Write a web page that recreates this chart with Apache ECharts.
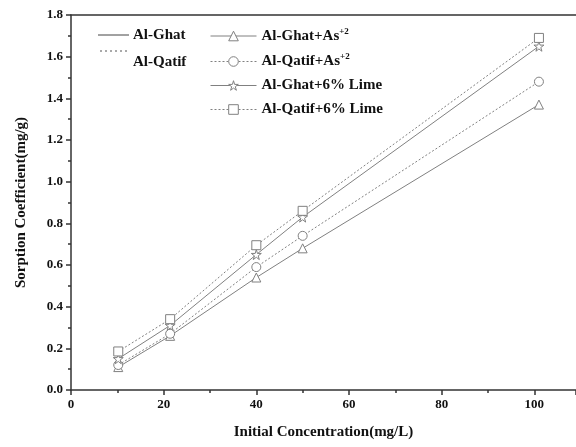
<!DOCTYPE html>
<html>
<head>
<meta charset="utf-8">
<script src="https://cdn.jsdelivr.net/npm/echarts@6/dist/echarts.min.js"></script>
<style>
  html, body { margin: 0; padding: 0; background: #fff; }
  #chart { width: 576px; height: 447px; }
</style>
</head>
<body>
<div id="chart"></div>
<script>
// initial concentration (mg/L)
var conc = [10.2, 21.4, 40, 50, 101];
// sorption coefficient (mg/g)
var ghatAs = [0.11, 0.26, 0.54, 0.68, 1.37];
var qatifAs = [0.12, 0.27, 0.59, 0.74, 1.48];
var ghatLime = [0.15, 0.31, 0.65, 0.83, 1.65];
var qatifLime = [0.185, 0.34, 0.695, 0.86, 1.69];

var FONT = '"Liberation Serif", "Times New Roman", serif';
var GRAY = '#808080';
var STAR = 'path://M50,0 L61,35 L98,35 L68,57 L79,91 L50,70 L21,91 L32,57 L2,35 L39,35 Z';

function pairs(ys) {
  return conc.map(function (x, i) { return [x, ys[i]]; });
}

function mkSeries(name, ys, symbol, dotted) {
  return {
    name: name,
    type: 'line',
    data: pairs(ys),
    symbol: symbol,
    symbolSize: symbol === STAR ? 10 : 9,
    lineStyle: { color: GRAY, width: 1, type: dotted ? [2, 2] : 'solid' },
    itemStyle: { color: '#fff', borderColor: GRAY, borderWidth: 1 },
    emphasis: { disabled: true },
    animation: false
  };
}

var chart = echarts.init(document.getElementById('chart'));
chart.setOption({
  animation: false,
  grid: { left: 71, top: 15, right: 0, bottom: 57 },
  legend: {
    left: 205, top: 22,
    orient: 'vertical',
    itemWidth: 46, itemHeight: 12, itemGap: 9,
    data: ['Al-Ghat+As', 'Al-Qatif+As', 'Al-Ghat+6% Lime', 'Al-Qatif+6% Lime'],
    itemStyle: { color: '#fff', borderColor: GRAY, borderWidth: 1 },
    lineStyle: { width: 1, color: GRAY },
    formatter: function (n) {
      if (n.indexOf('As') > 0) return '{t|' + n + '}{s|+2}';
      return '{t|' + n + '}';
    },
    textStyle: {
      rich: {
        t: { fontFamily: FONT, fontWeight: 'bold', fontSize: 15, color: '#111' },
        s: { fontFamily: FONT, fontWeight: 'bold', fontSize: 9, color: '#111', verticalAlign: 'top', padding: [0, 0, 9, 0] }
      }
    }
  },
  graphic: [
    { type: 'line', shape: { x1: 98, y1: 35, x2: 129, y2: 35 }, style: { stroke: '#444', lineWidth: 1 } },
    { type: 'text', left: 133, top: 28, style: { text: 'Al-Ghat', font: 'bold 15px ' + FONT, fill: '#111' } },
    { type: 'line', shape: { x1: 100, y1: 51, x2: 129, y2: 51 }, style: { stroke: '#555', lineWidth: 1, lineDash: [2, 3] } },
    { type: 'text', left: 133, top: 55, style: { text: 'Al-Qatif', font: 'bold 15px ' + FONT, fill: '#111' } }
  ],
  xAxis: [{
    type: 'value', min: 0, max: 109, interval: 20,
    name: 'Initial Concentration(mg/L)', nameLocation: 'middle', nameGap: 35,
    nameTextStyle: { fontFamily: FONT, fontWeight: 'bold', fontSize: 15, color: '#111' },
    axisLine: { onZero: false, lineStyle: { color: '#333', width: 1.5 } },
    axisTick: { length: 5, lineStyle: { color: '#333', width: 1.5 } },
    minorTick: { show: true, splitNumber: 2, length: 3, lineStyle: { color: '#333', width: 1.5 } },
    axisLabel: {
      fontFamily: FONT, fontWeight: 'bold', fontSize: 13, color: '#111', margin: 8,
      showMaxLabel: false
    },
    splitLine: { show: false }
  }, {
    type: 'value', position: 'top', min: 0, max: 109,
    axisLine: { show: true, onZero: false, lineStyle: { color: '#333', width: 1.5 } },
    axisTick: { show: false }, axisLabel: { show: false }, splitLine: { show: false }
  }],
  yAxis: {
    type: 'value', min: 0, max: 1.8, interval: 0.2,
    name: 'Sorption Coefficient(mg/g)', nameLocation: 'middle', nameGap: 42,
    nameTextStyle: { fontFamily: FONT, fontWeight: 'bold', fontSize: 15, color: '#111' },
    axisLine: { show: true, onZero: false, lineStyle: { color: '#333', width: 1.5 } },
    axisTick: { length: 5, lineStyle: { color: '#333', width: 1.5 } },
    minorTick: { show: true, splitNumber: 2, length: 3, lineStyle: { color: '#333', width: 1.5 } },
    axisLabel: {
      fontFamily: FONT, fontWeight: 'bold', fontSize: 13, color: '#111', margin: 8,
      formatter: function (v) { return v.toFixed(1); }
    },
    splitLine: { show: false }
  },
  series: [
    mkSeries('Al-Ghat+As', ghatAs, 'triangle', false),
    mkSeries('Al-Qatif+As', qatifAs, 'circle', true),
    mkSeries('Al-Ghat+6% Lime', ghatLime, STAR, false),
    mkSeries('Al-Qatif+6% Lime', qatifLime, 'rect', true)
  ]
});
</script>
</body>
</html>
